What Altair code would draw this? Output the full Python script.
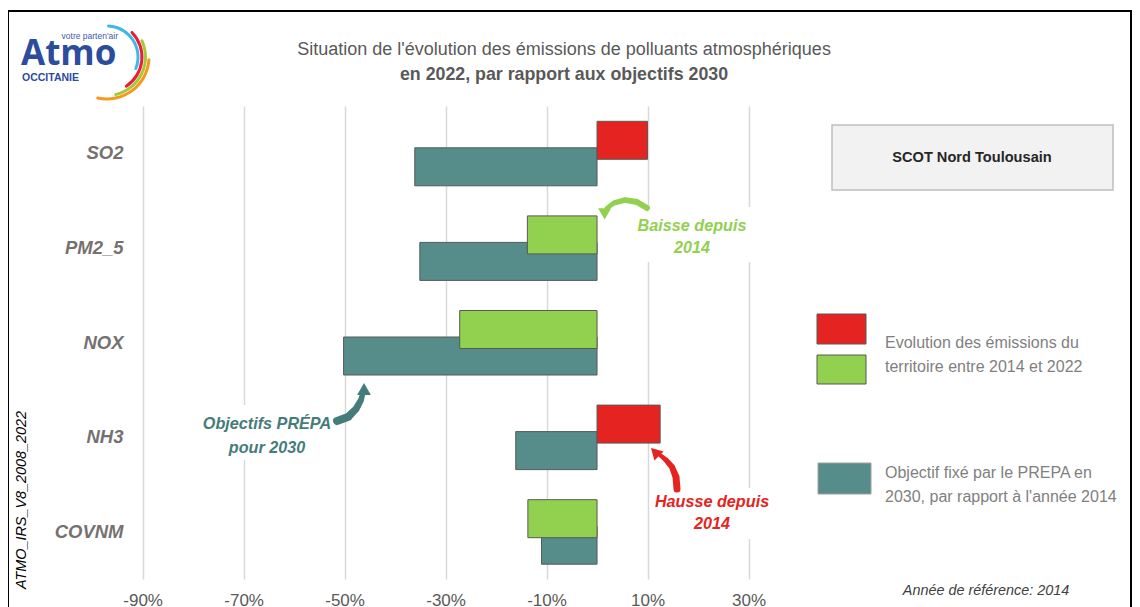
import altair as alt
import pandas as pd

# ---------------- data ----------------
categories = ["SO2", "PM2_5", "NOX", "NH3", "COVNM"]
evolution_2014_2022 = [0.100, -0.138, -0.272, 0.125, -0.137]
objectif_prepa_2030 = [-0.361, -0.351, -0.502, -0.161, -0.110]
x_ticks = [-0.9, -0.7, -0.5, -0.3, -0.1, 0.1, 0.3]

title_lines = ["Situation de l'évolution des émissions de polluants atmosphériques",
               "en 2022, par rapport aux objectifs 2030"]
territoire = "SCOT Nord Toulousain"
legend_evol = ["Evolution des émissions du", "territoire entre 2014 et 2022"]
legend_obj = ["Objectif fixé par le PREPA en", "2030, par rapport à l'année 2014"]
note_baisse = ["Baisse depuis", "2014"]
note_hausse = ["Hausse depuis", "2014"]
note_obj = ["Objectifs PRÉPA", "pour 2030"]
ref_year = "Année de référence: 2014"
source_id = "ATMO_IRS_V8_2008_2022"

# ---------------- styles ----------------
RED = "#E52421"
GREEN = "#92D050"
TEAL = "#568C8A"
TEAL_DARK = "#457C7A"
GRID = "#D9D9D9"
FONT = "Liberation Sans, Arial, sans-serif"
LOGO_BLUE = "#2C4C9C"

W, H = 669, 473
X0, Y0 = 130, 106  # page position of plot area
CANVAS_W = 1124


def rx(px):
    return px - X0


def ry(py):
    return py - Y0


evo_df = pd.DataFrame({
    "cat": categories,
    "val": evolution_2014_2022,
    "sens": ["Hausse" if v > 0 else "Baisse" for v in evolution_2014_2022],
})
obj_df = pd.DataFrame({"cat": categories, "val": objectif_prepa_2030})
one = pd.DataFrame({"k": [0]})

x_enc = alt.X(
    "val:Q",
    scale=alt.Scale(domain=[-0.925, 0.40], nice=False),
    axis=alt.Axis(
        values=x_ticks, title=None, grid=True, gridColor=GRID, gridWidth=1.5,
        ticks=False, domain=False, labelFont=FONT, labelFontSize=17,
        labelColor="#595959", labelPadding=13,
        labelExpr="(datum.value < 0 ? '-' : '') + abs(round(datum.value * 100)) + '%'",
    ),
)
y_enc = alt.Y(
    "cat:N",
    sort=categories,
    scale=alt.Scale(domain=categories, paddingInner=0, paddingOuter=0),
    axis=alt.Axis(
        title=None, ticks=False, domain=False, grid=False, labelFont=FONT,
        labelFontSize=18.5, labelFontWeight="bold", labelFontStyle="italic",
        labelColor="#767171", labelPadding=7,
    ),
)

obj_bars = alt.Chart(obj_df).mark_bar(
    height=38, yOffset=13.5, color=TEAL, stroke="#595959", strokeWidth=1
).encode(x=x_enc, x2=alt.datum(0), y=y_enc)

evo_bars = alt.Chart(evo_df).mark_bar(
    height=38, yOffset=-13, stroke="#595959", strokeWidth=1
).encode(
    x=alt.X("val:Q"), x2=alt.datum(0), y=alt.Y("cat:N", sort=categories),
    color=alt.Color("sens:N", scale=alt.Scale(domain=["Hausse", "Baisse"], range=[RED, GREEN]),
                    legend=None),
)


def box(x1, y1, x2, y2, fill="white", stroke=None, sw=1, opacity=1):
    kw = dict(fill=fill, fillOpacity=opacity)
    if stroke:
        kw.update(stroke=stroke, strokeWidth=sw)
    else:
        kw.update(strokeWidth=0)
    return alt.Chart(one).mark_rect(**kw).encode(
        x=alt.value(rx(x1)), x2=alt.value(rx(x2)), y=alt.value(ry(y1)), y2=alt.value(ry(y2))
    )


def label(text, px, py, size=16, color="#595959", weight="normal", style="normal",
          align="center", font=FONT, angle=0, baseline="middle"):
    kw = dict(fontSize=size, color=color, fontWeight=weight, fontStyle=style,
              align=align, font=font, baseline=baseline)
    if angle:
        kw["angle"] = angle
    return alt.Chart(one).mark_text(**kw).encode(
        x=alt.value(rx(px)), y=alt.value(ry(py)), text=alt.value(text)
    )


def arrow(points, color, head_xy, head_angle, head_size):
    df = pd.DataFrame({
        "px": [rx(p[0]) for p in points],
        "py": [ry(p[1]) for p in points],
        "w": [p[2] for p in points],
        "o": list(range(len(points))),
    })
    trail = alt.Chart(df).mark_trail(color=color).encode(
        x=alt.X("px:Q", scale=None, axis=None),
        y=alt.Y("py:Q", scale=None, axis=None),
        size=alt.Size("w:Q", scale=None, legend=None),
        order="o:Q",
    )
    head = alt.Chart(one).mark_point(
        shape="triangle-up", filled=True, opacity=1, color=color, size=head_size, angle=head_angle
    ).encode(x=alt.value(rx(head_xy[0])), y=alt.value(ry(head_xy[1])))
    return [trail, head]


layers = []
# white backgrounds of annotations (hide gridlines)
layers += [box(630, 207, 756, 262), box(195, 405, 339, 460), box(652, 488, 773, 539)]
layers += [obj_bars, evo_bars]

# arrows
layers += arrow([(647, 208, 6), (637, 202, 6), (625, 200, 5.5), (614, 203, 5), (607, 208, 4.5)],
                GREEN, (603, 211), 300, 170)
layers += arrow([(337, 421, 8), (348, 417, 8), (356, 409, 7), (361, 400, 6), (363, 393, 5)],
                TEAL_DARK, (364, 389), 0, 190)
layers += arrow([(677, 489, 7), (676, 477, 7), (672, 467, 6), (666, 460, 5), (660, 455, 4)],
                RED, (655, 452), 315, 170)

# annotation texts
layers += [
    label(note_baisse[0], 692, 226, 16.2, GREEN, "bold", "italic"),
    label(note_baisse[1], 692, 248, 16.2, GREEN, "bold", "italic"),
    label(note_obj[0], 267, 424, 16.2, TEAL_DARK, "bold", "italic"),
    label(note_obj[1], 267, 448, 16.2, TEAL_DARK, "bold", "italic"),
    label(note_hausse[0], 712, 502, 16.2, RED, "bold", "italic"),
    label(note_hausse[1], 712, 524, 16.2, RED, "bold", "italic"),
]

# title
layers += [
    label(title_lines[0], 564, 50, 18, "#595959"),
    label(title_lines[1], 564, 75, 17.8, "#595959", "bold"),
]

# territory box
layers += [box(832, 125, 1113, 190, fill="#F2F2F2", stroke="#BFBFBF", sw=1.5),
           label(territoire, 972, 158, 14.6, "#262626", "bold")]

# legend
layers += [
    box(817, 314, 866, 344, fill=RED, stroke="#595959"),
    box(817, 355, 866, 384, fill=GREEN, stroke="#595959"),
    box(818, 463, 871, 494, fill=TEAL, stroke="#A0A0A0"),
    label(legend_evol[0], 885, 343, 16, "#7F7F7F", align="left"),
    label(legend_evol[1], 885, 367, 16, "#7F7F7F", align="left"),
    label(legend_obj[0], 885, 473, 16, "#7F7F7F", align="left"),
    label(legend_obj[1], 885, 497, 16, "#7F7F7F", align="left"),
]

# footer texts
layers += [
    label(ref_year, 986, 591, 14.4, "#404040", style="italic"),
    label(source_id, 22, 500, 14.4, "#000000", style="italic", angle=270),
]

# logo
arc_specs = [("#3DB8E8", 29.5, 32.5, 0.0, 2.0), ("#E4203A", 33.5, 36.5, 0.75, 2.6),
             ("#A8C83A", 37.0, 40.0, 1.1, 2.95), ("#F39A1E", 40.5, 43.5, 1.6, 3.4)]
for col, r1, r2, t1, t2 in arc_specs:
    layers.append(
        alt.Chart(one).mark_arc(color=col, innerRadius=r1, outerRadius=r2, theta=t1, theta2=t2,
                                cornerRadius=1.5)
        .encode(x=alt.value(rx(107)), y=alt.value(ry(57)))
    )
layers += [
    label("Atmo", 21, 65, 35, LOGO_BLUE, "bold", align="left", font="Open Sans, Liberation Sans",
          baseline="alphabetic"),
    label("votre parten'air", 118, 39, 8.5, "#3B5BA9", align="right", font="Liberation Sans",
          baseline="alphabetic"),
    label("OCCITANIE", 22, 81, 10.5, LOGO_BLUE, "bold", align="left", font="Liberation Sans",
          baseline="alphabetic"),
]

# outer frame
layers.append(
    alt.Chart(one).mark_rect(fillOpacity=0, stroke="black", strokeWidth=2).encode(
        x=alt.value(rx(8)), x2=alt.value(rx(1131)), y=alt.value(ry(11)), y2=alt.value(ry(640))
    )
)

chart = alt.layer(*layers).properties(
    width=W, height=H,
    background="white",
    autosize=alt.AutoSizeParams(type="none"),
    padding={"left": X0 - 8, "top": Y0 - 8, "right": CANVAS_W - (X0 - 8) - W, "bottom": 36},
).configure_view(stroke=None, strokeWidth=0).configure_axis(domain=False, ticks=False)

chart.save("out.html", embed_options={"renderer": "svg", "actions": False})
